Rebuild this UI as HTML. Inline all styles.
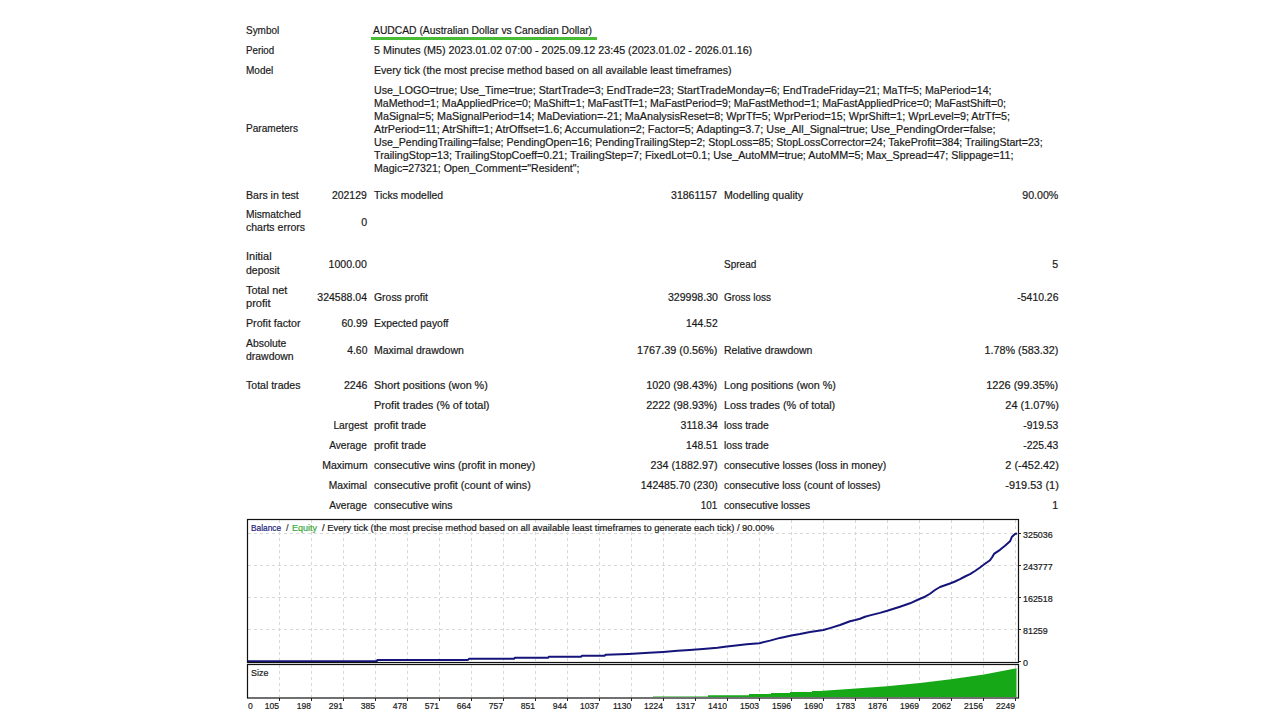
<!DOCTYPE html>
<html><head><meta charset="utf-8"><style>
html,body{margin:0;padding:0;background:#fff;width:1280px;height:720px;overflow:hidden;}
body{position:relative;font-family:"Liberation Sans", sans-serif;}
span{position:absolute;white-space:nowrap;-webkit-text-stroke:0.2px currentColor;}
</style></head><body>
<svg width="1280" height="720" style="position:absolute;left:0;top:0">
<rect x="371" y="37" width="226" height="3" fill="#46bd32"/>
<g stroke="#d8d8d8" stroke-width="1" stroke-dasharray="3,3" fill="none">
<line x1="279.5" y1="520" x2="279.5" y2="662" />
<line x1="279.5" y1="665" x2="279.5" y2="697" />
<line x1="311.5" y1="520" x2="311.5" y2="662" />
<line x1="311.5" y1="665" x2="311.5" y2="697" />
<line x1="343.5" y1="520" x2="343.5" y2="662" />
<line x1="343.5" y1="665" x2="343.5" y2="697" />
<line x1="375.5" y1="520" x2="375.5" y2="662" />
<line x1="375.5" y1="665" x2="375.5" y2="697" />
<line x1="407.5" y1="520" x2="407.5" y2="662" />
<line x1="407.5" y1="665" x2="407.5" y2="697" />
<line x1="439.5" y1="520" x2="439.5" y2="662" />
<line x1="439.5" y1="665" x2="439.5" y2="697" />
<line x1="471.5" y1="520" x2="471.5" y2="662" />
<line x1="471.5" y1="665" x2="471.5" y2="697" />
<line x1="503.5" y1="520" x2="503.5" y2="662" />
<line x1="503.5" y1="665" x2="503.5" y2="697" />
<line x1="535.5" y1="520" x2="535.5" y2="662" />
<line x1="535.5" y1="665" x2="535.5" y2="697" />
<line x1="567.5" y1="520" x2="567.5" y2="662" />
<line x1="567.5" y1="665" x2="567.5" y2="697" />
<line x1="599.5" y1="520" x2="599.5" y2="662" />
<line x1="599.5" y1="665" x2="599.5" y2="697" />
<line x1="631.5" y1="520" x2="631.5" y2="662" />
<line x1="631.5" y1="665" x2="631.5" y2="697" />
<line x1="663.5" y1="520" x2="663.5" y2="662" />
<line x1="663.5" y1="665" x2="663.5" y2="697" />
<line x1="695.5" y1="520" x2="695.5" y2="662" />
<line x1="695.5" y1="665" x2="695.5" y2="697" />
<line x1="727.5" y1="520" x2="727.5" y2="662" />
<line x1="727.5" y1="665" x2="727.5" y2="697" />
<line x1="759.5" y1="520" x2="759.5" y2="662" />
<line x1="759.5" y1="665" x2="759.5" y2="697" />
<line x1="791.5" y1="520" x2="791.5" y2="662" />
<line x1="791.5" y1="665" x2="791.5" y2="697" />
<line x1="823.5" y1="520" x2="823.5" y2="662" />
<line x1="823.5" y1="665" x2="823.5" y2="697" />
<line x1="855.5" y1="520" x2="855.5" y2="662" />
<line x1="855.5" y1="665" x2="855.5" y2="697" />
<line x1="887.5" y1="520" x2="887.5" y2="662" />
<line x1="887.5" y1="665" x2="887.5" y2="697" />
<line x1="919.5" y1="520" x2="919.5" y2="662" />
<line x1="919.5" y1="665" x2="919.5" y2="697" />
<line x1="951.5" y1="520" x2="951.5" y2="662" />
<line x1="951.5" y1="665" x2="951.5" y2="697" />
<line x1="983.5" y1="520" x2="983.5" y2="662" />
<line x1="983.5" y1="665" x2="983.5" y2="697" />
<line x1="1015.5" y1="520" x2="1015.5" y2="662" />
<line x1="1015.5" y1="665" x2="1015.5" y2="697" />
<line x1="248" y1="533.5" x2="1018" y2="533.5" />
<line x1="248" y1="565.5" x2="1018" y2="565.5" />
<line x1="248" y1="597.5" x2="1018" y2="597.5" />
<line x1="248" y1="629.5" x2="1018" y2="629.5" />
</g>
<polygon points="653,696.5 708,696.5 708,695.2 749,695.2 749,694 771,694 771,693 790,693 790,692 812,692 812,691 820,691 856,688.6 887,686.3 920,683.1 951,679.2 984,674.5 1016.5,668.3 1016.5,697 653,697" fill="#16a816" stroke="none"/>
<polyline points="248,661.3 376.5,661.3 377.5,659.9 468,659.9 469,658.8 514,658.8 515,657.8 548,657.8 549,656.7 581,656.7 582,655.8 604.6,655.8 605.6,654.8 628.5,653.9 649,652.8 663,651.9 677.6,650.8 689.6,649.9 702.9,648.9 717.5,647.7 726.8,646.6 736,645.5 746.7,644.3 759.4,643.2 770,640.6 780,637.9 791.4,635.5 800,634 810,632 823.4,630 830,628.1 840,625 850,621.3 855.4,620 860,618.75 865,616.7 870,615.4 880,612.9 887.3,610.8 900,606.7 910,603.3 920,598.75 925,596.7 930,593.75 935,590 940,587 950,583.5 955,581.5 960,579.2 965,576.5 970,574.2 975,571 980,567.5 985,563.8 990,560.2 992,557.5 994,553.9 1000,549.8 1005,545.8 1010,541.3 1012,536.7 1015,534 1017,533.6" fill="none" stroke="#14147a" stroke-width="2" stroke-linejoin="round"/>
<g stroke="#111" stroke-width="1.2" fill="none">
<rect x="247.5" y="519.5" width="771" height="143" />
<rect x="247.5" y="664.5" width="771" height="33.5" />
</g>
<g stroke="#222" stroke-width="1" fill="none">
<line x1="1018" y1="533.5" x2="1021" y2="533.5" />
<line x1="1018" y1="565.5" x2="1021" y2="565.5" />
<line x1="1018" y1="597.5" x2="1021" y2="597.5" />
<line x1="1018" y1="629.5" x2="1021" y2="629.5" />
<line x1="1018" y1="661.5" x2="1021" y2="661.5" />
<line x1="279.5" y1="698" x2="279.5" y2="701" />
<line x1="311.5" y1="698" x2="311.5" y2="701" />
<line x1="343.5" y1="698" x2="343.5" y2="701" />
<line x1="375.5" y1="698" x2="375.5" y2="701" />
<line x1="407.5" y1="698" x2="407.5" y2="701" />
<line x1="439.5" y1="698" x2="439.5" y2="701" />
<line x1="471.5" y1="698" x2="471.5" y2="701" />
<line x1="503.5" y1="698" x2="503.5" y2="701" />
<line x1="535.5" y1="698" x2="535.5" y2="701" />
<line x1="567.5" y1="698" x2="567.5" y2="701" />
<line x1="599.5" y1="698" x2="599.5" y2="701" />
<line x1="631.5" y1="698" x2="631.5" y2="701" />
<line x1="663.5" y1="698" x2="663.5" y2="701" />
<line x1="695.5" y1="698" x2="695.5" y2="701" />
<line x1="727.5" y1="698" x2="727.5" y2="701" />
<line x1="759.5" y1="698" x2="759.5" y2="701" />
<line x1="791.5" y1="698" x2="791.5" y2="701" />
<line x1="823.5" y1="698" x2="823.5" y2="701" />
<line x1="855.5" y1="698" x2="855.5" y2="701" />
<line x1="887.5" y1="698" x2="887.5" y2="701" />
<line x1="919.5" y1="698" x2="919.5" y2="701" />
<line x1="951.5" y1="698" x2="951.5" y2="701" />
<line x1="983.5" y1="698" x2="983.5" y2="701" />
<line x1="1015.5" y1="698" x2="1015.5" y2="701" />
</g>
</svg>
<span style="left:246.40px;transform-origin:0 0;top:24.75px;font-size:11px;line-height:11px;color:#1a1a1a;transform:scaleX(0.9049)">Symbol</span>
<span style="left:373.40px;transform-origin:0 0;top:24.75px;font-size:11px;line-height:11px;color:#1a1a1a;transform:scaleX(0.9378)">AUDCAD (Australian Dollar vs Canadian Dollar)</span>
<span style="left:246.40px;transform-origin:0 0;top:44.75px;font-size:11px;line-height:11px;color:#1a1a1a;transform:scaleX(0.8869)">Period</span>
<span style="left:373.90px;transform-origin:0 0;top:44.75px;font-size:11px;line-height:11px;color:#1a1a1a;transform:scaleX(0.9754)">5 Minutes (M5) 2023.01.02 07:00 - 2025.09.12 23:45 (2023.01.02 - 2026.01.16)</span>
<span style="left:246.40px;transform-origin:0 0;top:64.75px;font-size:11px;line-height:11px;color:#1a1a1a;transform:scaleX(0.9109)">Model</span>
<span style="left:373.90px;transform-origin:0 0;top:64.75px;font-size:11px;line-height:11px;color:#1a1a1a;transform:scaleX(0.9633)">Every tick (the most precise method based on all available least timeframes)</span>
<span style="left:246.40px;transform-origin:0 0;top:122.75px;font-size:11px;line-height:11px;color:#1a1a1a;transform:scaleX(0.9145)">Parameters</span>
<span style="left:373.90px;transform-origin:0 0;top:84.75px;font-size:11px;line-height:11px;color:#1a1a1a;transform:scaleX(0.9677)">Use_LOGO=true; Use_Time=true; StartTrade=3; EndTrade=23; StartTradeMonday=6; EndTradeFriday=21; MaTf=5; MaPeriod=14;</span>
<span style="left:373.90px;transform-origin:0 0;top:97.75px;font-size:11px;line-height:11px;color:#1a1a1a;transform:scaleX(0.9607)">MaMethod=1; MaAppliedPrice=0; MaShift=1; MaFastTf=1; MaFastPeriod=9; MaFastMethod=1; MaFastAppliedPrice=0; MaFastShift=0;</span>
<span style="left:373.90px;transform-origin:0 0;top:110.75px;font-size:11px;line-height:11px;color:#1a1a1a;transform:scaleX(0.9780)">MaSignal=5; MaSignalPeriod=14; MaDeviation=-21; MaAnalysisReset=8; WprTf=5; WprPeriod=15; WprShift=1; WprLevel=9; AtrTf=5;</span>
<span style="left:373.90px;transform-origin:0 0;top:123.75px;font-size:11px;line-height:11px;color:#1a1a1a;transform:scaleX(0.9836)">AtrPeriod=11; AtrShift=1; AtrOffset=1.6; Accumulation=2; Factor=5; Adapting=3.7; Use_All_Signal=true; Use_PendingOrder=false;</span>
<span style="left:373.90px;transform-origin:0 0;top:136.75px;font-size:11px;line-height:11px;color:#1a1a1a;transform:scaleX(0.9636)">Use_PendingTrailing=false; PendingOpen=16; PendingTrailingStep=2; StopLoss=85; StopLossCorrector=24; TakeProfit=384; TrailingStart=23;</span>
<span style="left:373.90px;transform-origin:0 0;top:149.75px;font-size:11px;line-height:11px;color:#1a1a1a;transform:scaleX(0.9748)">TrailingStop=13; TrailingStopCoeff=0.21; TrailingStep=7; FixedLot=0.1; Use_AutoMM=true; AutoMM=5; Max_Spread=47; Slippage=11;</span>
<span style="left:373.90px;transform-origin:0 0;top:162.75px;font-size:11px;line-height:11px;color:#1a1a1a;transform:scaleX(0.9608)">Magic=27321; Open_Comment="Resident";</span>
<span style="left:246.40px;transform-origin:0 0;top:189.75px;font-size:11px;line-height:11px;color:#1a1a1a;transform:scaleX(0.9576)">Bars in test</span>
<span style="right:912.80px;transform-origin:100% 0;top:189.75px;font-size:11px;line-height:11px;color:#1a1a1a;transform:scaleX(0.9450)">202129</span>
<span style="left:373.90px;transform-origin:0 0;top:189.75px;font-size:11px;line-height:11px;color:#1a1a1a;transform:scaleX(0.9472)">Ticks modelled</span>
<span style="right:562.40px;transform-origin:100% 0;top:189.75px;font-size:11px;line-height:11px;color:#1a1a1a;transform:scaleX(0.9579)">31861157</span>
<span style="left:724.00px;transform-origin:0 0;top:189.75px;font-size:11px;line-height:11px;color:#1a1a1a;transform:scaleX(0.9641)">Modelling quality</span>
<span style="right:221.40px;transform-origin:100% 0;top:189.75px;font-size:11px;line-height:11px;color:#1a1a1a;transform:scaleX(0.9675)">90.00%</span>
<span style="left:246.40px;transform-origin:0 0;top:208.75px;font-size:11px;line-height:11px;color:#1a1a1a;transform:scaleX(0.9275)">Mismatched</span>
<span style="left:246.40px;transform-origin:0 0;top:221.75px;font-size:11px;line-height:11px;color:#1a1a1a;transform:scaleX(0.9555)">charts errors</span>
<span style="right:912.80px;transform-origin:100% 0;top:216.75px;font-size:11px;line-height:11px;color:#1a1a1a;transform:scaleX(0.9650)">0</span>
<span style="left:246.40px;transform-origin:0 0;top:250.75px;font-size:11px;line-height:11px;color:#1a1a1a;transform:scaleX(0.9966)">Initial</span>
<span style="left:246.40px;transform-origin:0 0;top:264.75px;font-size:11px;line-height:11px;color:#1a1a1a;transform:scaleX(0.9525)">deposit</span>
<span style="right:912.80px;transform-origin:100% 0;top:258.75px;font-size:11px;line-height:11px;color:#1a1a1a;transform:scaleX(0.9606)">1000.00</span>
<span style="left:724.00px;transform-origin:0 0;top:258.75px;font-size:11px;line-height:11px;color:#1a1a1a;transform:scaleX(0.9103)">Spread</span>
<span style="right:221.40px;transform-origin:100% 0;top:258.75px;font-size:11px;line-height:11px;color:#1a1a1a;transform:scaleX(0.9650)">5</span>
<span style="left:246.40px;transform-origin:0 0;top:284.75px;font-size:11px;line-height:11px;color:#1a1a1a;transform:scaleX(0.9953)">Total net</span>
<span style="left:246.40px;transform-origin:0 0;top:297.75px;font-size:11px;line-height:11px;color:#1a1a1a;transform:scaleX(1.0054)">profit</span>
<span style="right:912.80px;transform-origin:100% 0;top:291.75px;font-size:11px;line-height:11px;color:#1a1a1a;transform:scaleX(0.9558)">324588.04</span>
<span style="left:373.90px;transform-origin:0 0;top:291.75px;font-size:11px;line-height:11px;color:#1a1a1a;transform:scaleX(0.9480)">Gross profit</span>
<span style="right:562.40px;transform-origin:100% 0;top:291.75px;font-size:11px;line-height:11px;color:#1a1a1a;transform:scaleX(0.9635)">329998.30</span>
<span style="left:724.00px;transform-origin:0 0;top:291.75px;font-size:11px;line-height:11px;color:#1a1a1a;transform:scaleX(0.9063)">Gross loss</span>
<span style="right:221.40px;transform-origin:100% 0;top:291.75px;font-size:11px;line-height:11px;color:#1a1a1a;transform:scaleX(0.9462)">-5410.26</span>
<span style="left:246.40px;transform-origin:0 0;top:317.75px;font-size:11px;line-height:11px;color:#1a1a1a;transform:scaleX(0.9689)">Profit factor</span>
<span style="right:912.80px;transform-origin:100% 0;top:317.75px;font-size:11px;line-height:11px;color:#1a1a1a;transform:scaleX(0.9480)">60.99</span>
<span style="left:373.90px;transform-origin:0 0;top:317.75px;font-size:11px;line-height:11px;color:#1a1a1a;transform:scaleX(0.9468)">Expected payoff</span>
<span style="right:562.40px;transform-origin:100% 0;top:317.75px;font-size:11px;line-height:11px;color:#1a1a1a;transform:scaleX(0.9419)">144.52</span>
<span style="left:246.40px;transform-origin:0 0;top:337.75px;font-size:11px;line-height:11px;color:#1a1a1a;transform:scaleX(0.9436)">Absolute</span>
<span style="left:246.40px;transform-origin:0 0;top:350.75px;font-size:11px;line-height:11px;color:#1a1a1a;transform:scaleX(0.9493)">drawdown</span>
<span style="right:912.80px;transform-origin:100% 0;top:344.75px;font-size:11px;line-height:11px;color:#1a1a1a;transform:scaleX(0.9430)">4.60</span>
<span style="left:373.90px;transform-origin:0 0;top:344.75px;font-size:11px;line-height:11px;color:#1a1a1a;transform:scaleX(0.9548)">Maximal drawdown</span>
<span style="right:562.40px;transform-origin:100% 0;top:344.75px;font-size:11px;line-height:11px;color:#1a1a1a;transform:scaleX(0.9884)">1767.39 (0.56%)</span>
<span style="left:724.00px;transform-origin:0 0;top:344.75px;font-size:11px;line-height:11px;color:#1a1a1a;transform:scaleX(0.9512)">Relative drawdown</span>
<span style="right:221.40px;transform-origin:100% 0;top:344.75px;font-size:11px;line-height:11px;color:#1a1a1a;transform:scaleX(0.9798)">1.78% (583.32)</span>
<span style="left:246.40px;transform-origin:0 0;top:379.75px;font-size:11px;line-height:11px;color:#1a1a1a;transform:scaleX(0.9582)">Total trades</span>
<span style="right:912.80px;transform-origin:100% 0;top:379.75px;font-size:11px;line-height:11px;color:#1a1a1a;transform:scaleX(0.9598)">2246</span>
<span style="left:373.90px;transform-origin:0 0;top:379.75px;font-size:11px;line-height:11px;color:#1a1a1a;transform:scaleX(0.9796)">Short positions (won %)</span>
<span style="right:562.40px;transform-origin:100% 0;top:379.75px;font-size:11px;line-height:11px;color:#1a1a1a;transform:scaleX(0.9838)">1020 (98.43%)</span>
<span style="left:724.00px;transform-origin:0 0;top:379.75px;font-size:11px;line-height:11px;color:#1a1a1a;transform:scaleX(0.9786)">Long positions (won %)</span>
<span style="right:221.40px;transform-origin:100% 0;top:379.75px;font-size:11px;line-height:11px;color:#1a1a1a;transform:scaleX(0.9976)">1226 (99.35%)</span>
<span style="left:373.90px;transform-origin:0 0;top:399.75px;font-size:11px;line-height:11px;color:#1a1a1a;transform:scaleX(0.9996)">Profit trades (% of total)</span>
<span style="right:562.40px;transform-origin:100% 0;top:399.75px;font-size:11px;line-height:11px;color:#1a1a1a;transform:scaleX(0.9838)">2222 (98.93%)</span>
<span style="left:724.00px;transform-origin:0 0;top:399.75px;font-size:11px;line-height:11px;color:#1a1a1a;transform:scaleX(0.9831)">Loss trades (% of total)</span>
<span style="right:221.40px;transform-origin:100% 0;top:399.75px;font-size:11px;line-height:11px;color:#1a1a1a;transform:scaleX(0.9942)">24 (1.07%)</span>
<span style="right:912.80px;transform-origin:100% 0;top:419.75px;font-size:11px;line-height:11px;color:#1a1a1a;transform:scaleX(0.9345)">Largest</span>
<span style="left:373.90px;transform-origin:0 0;top:419.75px;font-size:11px;line-height:11px;color:#1a1a1a;transform:scaleX(0.9925)">profit trade</span>
<span style="right:562.40px;transform-origin:100% 0;top:419.75px;font-size:11px;line-height:11px;color:#1a1a1a;transform:scaleX(0.9601)">3118.34</span>
<span style="left:724.00px;transform-origin:0 0;top:419.75px;font-size:11px;line-height:11px;color:#1a1a1a;transform:scaleX(0.9370)">loss trade</span>
<span style="right:221.40px;transform-origin:100% 0;top:419.75px;font-size:11px;line-height:11px;color:#1a1a1a;transform:scaleX(0.9380)">-919.53</span>
<span style="right:912.80px;transform-origin:100% 0;top:439.75px;font-size:11px;line-height:11px;color:#1a1a1a;transform:scaleX(0.9220)">Average</span>
<span style="left:373.90px;transform-origin:0 0;top:439.75px;font-size:11px;line-height:11px;color:#1a1a1a;transform:scaleX(0.9925)">profit trade</span>
<span style="right:562.40px;transform-origin:100% 0;top:439.75px;font-size:11px;line-height:11px;color:#1a1a1a;transform:scaleX(0.9419)">148.51</span>
<span style="left:724.00px;transform-origin:0 0;top:439.75px;font-size:11px;line-height:11px;color:#1a1a1a;transform:scaleX(0.9370)">loss trade</span>
<span style="right:221.40px;transform-origin:100% 0;top:439.75px;font-size:11px;line-height:11px;color:#1a1a1a;transform:scaleX(0.9380)">-225.43</span>
<span style="right:912.80px;transform-origin:100% 0;top:459.75px;font-size:11px;line-height:11px;color:#1a1a1a;transform:scaleX(0.9544)">Maximum</span>
<span style="left:373.90px;transform-origin:0 0;top:459.75px;font-size:11px;line-height:11px;color:#1a1a1a;transform:scaleX(0.9735)">consecutive wins (profit in money)</span>
<span style="right:562.40px;transform-origin:100% 0;top:459.75px;font-size:11px;line-height:11px;color:#1a1a1a;transform:scaleX(0.9781)">234 (1882.97)</span>
<span style="left:724.00px;transform-origin:0 0;top:459.75px;font-size:11px;line-height:11px;color:#1a1a1a;transform:scaleX(0.9549)">consecutive losses (loss in money)</span>
<span style="right:221.40px;transform-origin:100% 0;top:459.75px;font-size:11px;line-height:11px;color:#1a1a1a;transform:scaleX(0.9942)">2 (-452.42)</span>
<span style="right:912.80px;transform-origin:100% 0;top:479.75px;font-size:11px;line-height:11px;color:#1a1a1a;transform:scaleX(0.9328)">Maximal</span>
<span style="left:373.90px;transform-origin:0 0;top:479.75px;font-size:11px;line-height:11px;color:#1a1a1a;transform:scaleX(0.9789)">consecutive profit (count of wins)</span>
<span style="right:562.40px;transform-origin:100% 0;top:479.75px;font-size:11px;line-height:11px;color:#1a1a1a;transform:scaleX(0.9537)">142485.70 (230)</span>
<span style="left:724.00px;transform-origin:0 0;top:479.75px;font-size:11px;line-height:11px;color:#1a1a1a;transform:scaleX(0.9522)">consecutive loss (count of losses)</span>
<span style="right:221.40px;transform-origin:100% 0;top:479.75px;font-size:11px;line-height:11px;color:#1a1a1a;transform:scaleX(0.9942)">-919.53 (1)</span>
<span style="right:912.80px;transform-origin:100% 0;top:499.75px;font-size:11px;line-height:11px;color:#1a1a1a;transform:scaleX(0.9220)">Average</span>
<span style="left:373.90px;transform-origin:0 0;top:499.75px;font-size:11px;line-height:11px;color:#1a1a1a;transform:scaleX(0.9440)">consecutive wins</span>
<span style="right:562.40px;transform-origin:100% 0;top:499.75px;font-size:11px;line-height:11px;color:#1a1a1a;transform:scaleX(0.8987)">101</span>
<span style="left:724.00px;transform-origin:0 0;top:499.75px;font-size:11px;line-height:11px;color:#1a1a1a;transform:scaleX(0.9315)">consecutive losses</span>
<span style="right:221.40px;transform-origin:100% 0;top:499.75px;font-size:11px;line-height:11px;color:#1a1a1a;transform:scaleX(0.9650)">1</span>
<span style="left:251.15px;transform-origin:0 0;top:523.00px;font-size:9.5px;line-height:9.5px;color:#1c1c78;transform:scaleX(0.8793)">Balance</span>
<span style="left:285.60px;transform-origin:0 0;top:523.00px;font-size:9.5px;line-height:9.5px;color:#333;transform:scaleX(0.9650)">/</span>
<span style="left:292.20px;transform-origin:0 0;top:523.00px;font-size:9.5px;line-height:9.5px;color:#3aa83a;transform:scaleX(0.9505)">Equity</span>
<span style="left:321.60px;transform-origin:0 0;top:523.00px;font-size:9.5px;line-height:9.5px;color:#1a1a1a;transform:scaleX(0.9896)">/ Every tick (the most precise method based on all available least timeframes to generate each tick) / 90.00%</span>
<span style="left:1022.90px;transform-origin:0 0;top:530.75px;font-size:9px;line-height:9px;color:#1a1a1a;transform:scaleX(0.9900)">325036</span>
<span style="left:1022.90px;transform-origin:0 0;top:562.75px;font-size:9px;line-height:9px;color:#1a1a1a;transform:scaleX(0.9900)">243777</span>
<span style="left:1022.90px;transform-origin:0 0;top:594.75px;font-size:9px;line-height:9px;color:#1a1a1a;transform:scaleX(0.9900)">162518</span>
<span style="left:1022.90px;transform-origin:0 0;top:626.75px;font-size:9px;line-height:9px;color:#1a1a1a;transform:scaleX(0.9900)">81259</span>
<span style="left:1022.90px;transform-origin:0 0;top:658.75px;font-size:9px;line-height:9px;color:#1a1a1a;transform:scaleX(0.9900)">0</span>
<span style="left:251.40px;transform-origin:0 0;top:668.75px;font-size:9px;line-height:9px;color:#1a1a1a;transform:scaleX(0.9900)">Size</span>
<span style="left:247.70px;transform-origin:0 0;top:701.75px;font-size:9px;line-height:9px;color:#1a1a1a;transform:scaleX(0.9500)">0</span>
<span style="right:1000.80px;transform-origin:100% 0;top:701.75px;font-size:9px;line-height:9px;color:#1a1a1a;transform:scaleX(0.9500)">105</span>
<span style="right:968.80px;transform-origin:100% 0;top:701.75px;font-size:9px;line-height:9px;color:#1a1a1a;transform:scaleX(0.9500)">198</span>
<span style="right:936.80px;transform-origin:100% 0;top:701.75px;font-size:9px;line-height:9px;color:#1a1a1a;transform:scaleX(0.9500)">291</span>
<span style="right:904.80px;transform-origin:100% 0;top:701.75px;font-size:9px;line-height:9px;color:#1a1a1a;transform:scaleX(0.9500)">385</span>
<span style="right:872.80px;transform-origin:100% 0;top:701.75px;font-size:9px;line-height:9px;color:#1a1a1a;transform:scaleX(0.9500)">478</span>
<span style="right:840.80px;transform-origin:100% 0;top:701.75px;font-size:9px;line-height:9px;color:#1a1a1a;transform:scaleX(0.9500)">571</span>
<span style="right:808.80px;transform-origin:100% 0;top:701.75px;font-size:9px;line-height:9px;color:#1a1a1a;transform:scaleX(0.9500)">664</span>
<span style="right:776.80px;transform-origin:100% 0;top:701.75px;font-size:9px;line-height:9px;color:#1a1a1a;transform:scaleX(0.9500)">757</span>
<span style="right:744.80px;transform-origin:100% 0;top:701.75px;font-size:9px;line-height:9px;color:#1a1a1a;transform:scaleX(0.9500)">851</span>
<span style="right:712.80px;transform-origin:100% 0;top:701.75px;font-size:9px;line-height:9px;color:#1a1a1a;transform:scaleX(0.9500)">944</span>
<span style="right:680.80px;transform-origin:100% 0;top:701.75px;font-size:9px;line-height:9px;color:#1a1a1a;transform:scaleX(0.9500)">1037</span>
<span style="right:648.80px;transform-origin:100% 0;top:701.75px;font-size:9px;line-height:9px;color:#1a1a1a;transform:scaleX(0.9500)">1130</span>
<span style="right:616.80px;transform-origin:100% 0;top:701.75px;font-size:9px;line-height:9px;color:#1a1a1a;transform:scaleX(0.9500)">1224</span>
<span style="right:584.80px;transform-origin:100% 0;top:701.75px;font-size:9px;line-height:9px;color:#1a1a1a;transform:scaleX(0.9500)">1317</span>
<span style="right:552.80px;transform-origin:100% 0;top:701.75px;font-size:9px;line-height:9px;color:#1a1a1a;transform:scaleX(0.9500)">1410</span>
<span style="right:520.80px;transform-origin:100% 0;top:701.75px;font-size:9px;line-height:9px;color:#1a1a1a;transform:scaleX(0.9500)">1503</span>
<span style="right:488.80px;transform-origin:100% 0;top:701.75px;font-size:9px;line-height:9px;color:#1a1a1a;transform:scaleX(0.9500)">1596</span>
<span style="right:456.80px;transform-origin:100% 0;top:701.75px;font-size:9px;line-height:9px;color:#1a1a1a;transform:scaleX(0.9500)">1690</span>
<span style="right:424.80px;transform-origin:100% 0;top:701.75px;font-size:9px;line-height:9px;color:#1a1a1a;transform:scaleX(0.9500)">1783</span>
<span style="right:392.80px;transform-origin:100% 0;top:701.75px;font-size:9px;line-height:9px;color:#1a1a1a;transform:scaleX(0.9500)">1876</span>
<span style="right:360.80px;transform-origin:100% 0;top:701.75px;font-size:9px;line-height:9px;color:#1a1a1a;transform:scaleX(0.9500)">1969</span>
<span style="right:328.80px;transform-origin:100% 0;top:701.75px;font-size:9px;line-height:9px;color:#1a1a1a;transform:scaleX(0.9500)">2062</span>
<span style="right:296.80px;transform-origin:100% 0;top:701.75px;font-size:9px;line-height:9px;color:#1a1a1a;transform:scaleX(0.9500)">2156</span>
<span style="right:264.80px;transform-origin:100% 0;top:701.75px;font-size:9px;line-height:9px;color:#1a1a1a;transform:scaleX(0.9500)">2249</span>
</body></html>
